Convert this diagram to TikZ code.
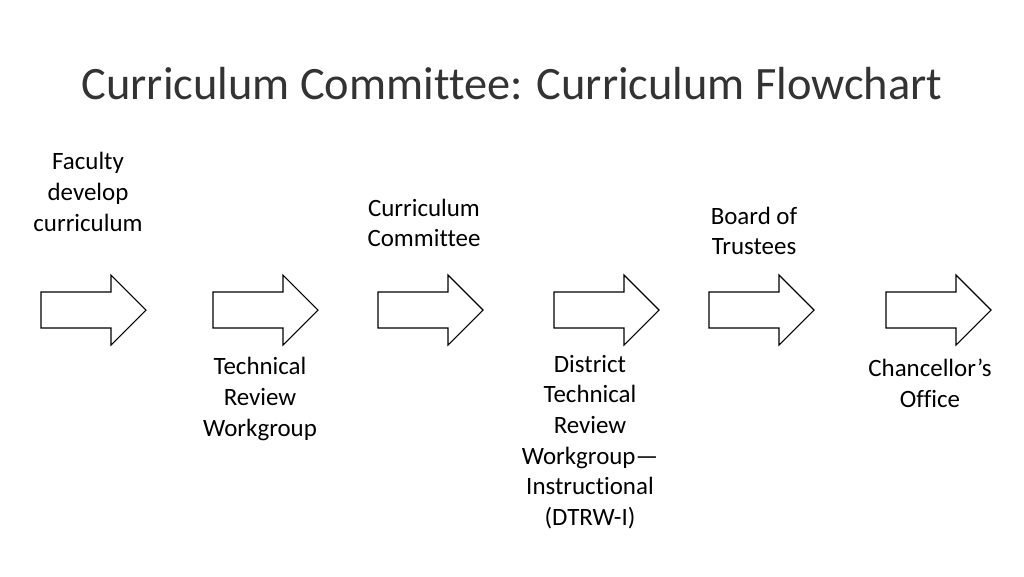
\documentclass[tikz,border=0pt]{standalone}
\usepackage{fontspec}
\setmainfont{Carlito}[Ligatures=NoCommon]
\usepackage{tikz}

\begin{document}
\begin{tikzpicture}[x=0.75pt,y=-0.75pt,
    steplabel/.style={align=center,font=\fontsize{18.7}{23}\selectfont,inner sep=0pt},
    bigarrow/.style={draw=black,fill=white,line width=0.8pt,line join=miter}]
    \useasboundingbox (0,0) rectangle (1024,576);
    \node[font=\fontsize{34.8}{40}\selectfont,text=black!80] (title) at (512,84) {Curriculum Committee: Curriculum Flowchart};
    % block arrows
    \foreach \l in {41,213,378,554,709,886}
      \draw[bigarrow] (\l,292) -- (\l+70,292) -- (\l+70,275) -- (\l+105,310) -- (\l+70,345) -- (\l+70,328) -- (\l,328) -- cycle;
    % labels above and below
    \node[steplabel] (faculty) at (88,192) {Faculty\\develop\\curriculum};
    \node[steplabel] (trw) at (260,399) {Technical\\Review\\Workgroup};
    \node[steplabel] (cc) at (424,223) {Curriculum\\Committee};
    \node[steplabel] (dtrw) at (590,442) {District\\Technical\\Review\\Workgroup---\\Instructional\\(DTRW-I)};
    \node[steplabel] (board) at (754,231) {Board of\\Trustees};
    \node[steplabel] (chancellor) at (930,383) {Chancellor’s\\Office};
  \end{tikzpicture}
\end{document}
